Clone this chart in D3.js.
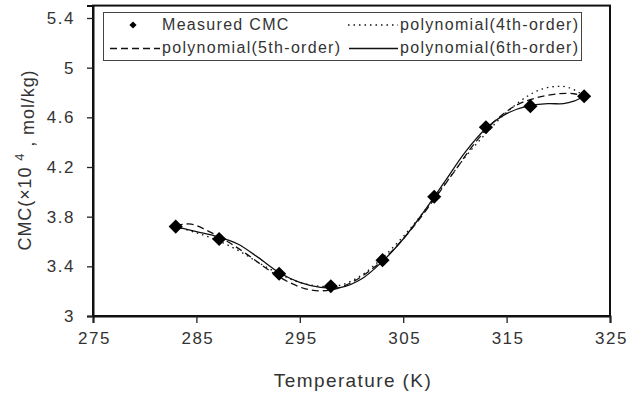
<!DOCTYPE html>
<html><head><meta charset="utf-8">
<script src="https://cdn.jsdelivr.net/npm/d3@7"></script>
<style>
body{margin:0;background:#fff;}
text{font-family:"Liberation Sans",Arial,sans-serif;fill:#333;}
</style></head>
<body><svg id="c" width="640" height="394"></svg>
<script>
// Measured data
const temps = [283, 287.2, 293, 298, 303, 308, 313, 317.3, 322.5];
const cmc   = [3.72, 3.62, 3.34, 3.24, 3.45, 3.96, 4.52, 4.69, 4.77];
// Fitted curves
const poly4T = [283, 285, 287, 289, 291, 293, 295, 297, 299, 301, 303, 305, 307, 309, 311, 313, 315, 317, 318.5, 320, 321, 322, 322.5];
const poly4V = [3.72, 3.67, 3.61, 3.53, 3.43, 3.34, 3.27, 3.24, 3.25, 3.33, 3.47, 3.64, 3.84, 4.06, 4.28, 4.47, 4.64, 4.77, 4.83, 4.85, 4.84, 4.80, 4.77];
const poly5T = [283, 284.5, 286, 288, 290, 292, 294, 296, 298, 300, 302, 304, 306, 308, 310, 312, 314, 316, 318, 320, 321.5, 322.5];
const poly5V = [3.73, 3.74, 3.69, 3.60, 3.49, 3.37, 3.27, 3.21, 3.21, 3.27, 3.38, 3.53, 3.72, 3.94, 4.17, 4.40, 4.58, 4.70, 4.76, 4.79, 4.79, 4.77];
const poly6T = [283, 285, 287, 289, 291, 293, 295, 297, 299, 301, 303, 305, 307, 309, 311, 313, 315, 317, 319, 320.5, 321.5, 322.5];
const poly6V = [3.72, 3.68, 3.64, 3.58, 3.47, 3.35, 3.27, 3.23, 3.23, 3.30, 3.44, 3.62, 3.84, 4.08, 4.32, 4.51, 4.63, 4.69, 4.71, 4.71, 4.73, 4.77];
const xTicks = [275, 285, 295, 305, 315, 325];
const yTicks = [3, 3.4, 3.8, 4.2, 4.6, 5, 5.4];
const legendLabels = ["Measured CMC", "polynomial(4th-order)", "polynomial(5th-order)", "polynomial(6th-order)"];

const svg = d3.select("#c");
const L = 93, R = 610, T = 5, B = 316;
const x = d3.scaleLinear().domain([275, 325]).range([L, R]);
const y = d3.scaleLinear().domain([3, 5.5]).range([B, 316 - 2.5/2.4*298]);

// frame
svg.append("rect").attr("x", L).attr("y", y(5.5)).attr("width", R - L).attr("height", B - y(5.5))
  .attr("fill", "none").attr("stroke", "#111").attr("stroke-width", 2);

const xa = svg.append("g").attr("transform", `translate(0,${B})`)
  .call(d3.axisBottom(x).tickValues(xTicks).tickSize(7).tickPadding(9).tickFormat(d3.format("d")));
const ya = svg.append("g").attr("transform", `translate(${L},0)`)
  .call(d3.axisLeft(y).tickValues(yTicks).tickSize(6).tickPadding(12).tickFormat(d => String(d)));
[xa, ya].forEach(a => {
  a.select(".domain").attr("stroke", "#111").attr("stroke-width", 2);
  a.selectAll(".tick line").attr("stroke", "#222").attr("stroke-width", 1.3);
  a.selectAll(".tick text").style("font-size", "17px").style("letter-spacing", "1.5px").attr("fill", "#333");
});
xa.selectAll(".tick text").attr("dx", "1px");

// curves
const line = d3.line().x(d => x(d[0])).y(d => y(d[1])).curve(d3.curveCatmullRom);
const curves = [
  {t: poly4T, v: poly4V, dash: "1.5,4"},
  {t: poly5T, v: poly5V, dash: "7,4"},
  {t: poly6T, v: poly6V, dash: null}
];
curves.forEach(c => {
  svg.append("path").datum(c.t.map((t, i) => [t, c.v[i]]))
    .attr("d", line).attr("fill", "none").attr("stroke", "#111")
    .attr("stroke-width", 1.3).attr("stroke-dasharray", c.dash);
});

// markers
const diamond = d3.symbol().type(d3.symbolSquare).size(100);
svg.append("g").selectAll("path").data(temps.map((t, i) => [t, cmc[i]])).join("path")
  .attr("d", diamond).attr("fill", "#000")
  .attr("transform", d => `translate(${x(d[0])},${y(d[1])}) rotate(45)`);

// legend
const lg = svg.append("g");
lg.append("rect").attr("x", 103.5).attr("y", 12.5).attr("width", 478).attr("height", 48)
  .attr("fill", "#fff").attr("stroke", "#444").attr("stroke-width", 1);
lg.append("path").attr("d", d3.symbol().type(d3.symbolSquare).size(26)())
  .attr("transform", "translate(133,25) rotate(45)").attr("fill", "#000");
const lt = (tx, ty, s) => lg.append("text").attr("x", tx).attr("y", ty).text(s)
  .style("font-size", "16px").style("letter-spacing", "1.3px");
lt(162, 30, legendLabels[0]);
lt(400, 30, legendLabels[1]);
lt(162, 53, legendLabels[2]);
lt(400, 53, legendLabels[3]);
lg.append("line").attr("x1", 348).attr("x2", 398).attr("y1", 25).attr("y2", 25)
  .attr("stroke", "#111").attr("stroke-width", 1.3).attr("stroke-dasharray", "1.5,4");
lg.append("line").attr("x1", 110).attr("x2", 160).attr("y1", 48.5).attr("y2", 48.5)
  .attr("stroke", "#111").attr("stroke-width", 1.3).attr("stroke-dasharray", "7,4");
lg.append("line").attr("x1", 349).attr("x2", 398).attr("y1", 48.5).attr("y2", 48.5)
  .attr("stroke", "#111").attr("stroke-width", 1.3);

// axis titles
svg.append("text").attr("x", 353).attr("y", 387).attr("text-anchor", "middle")
  .style("font-size", "19px").style("letter-spacing", "1.4px").text("Temperature (K)");
const yl = svg.append("text").attr("transform", "translate(31,160) rotate(-90)")
  .attr("text-anchor", "middle").style("font-size", "18px").style("letter-spacing", "0.9px");
yl.append("tspan").text("CMC(×10 ");
yl.append("tspan").attr("dy", "-0.55em").style("font-size", "13px").text("4");
yl.append("tspan").attr("dy", "0.55em").text(" , mol/kg)");
</script></body></html>
